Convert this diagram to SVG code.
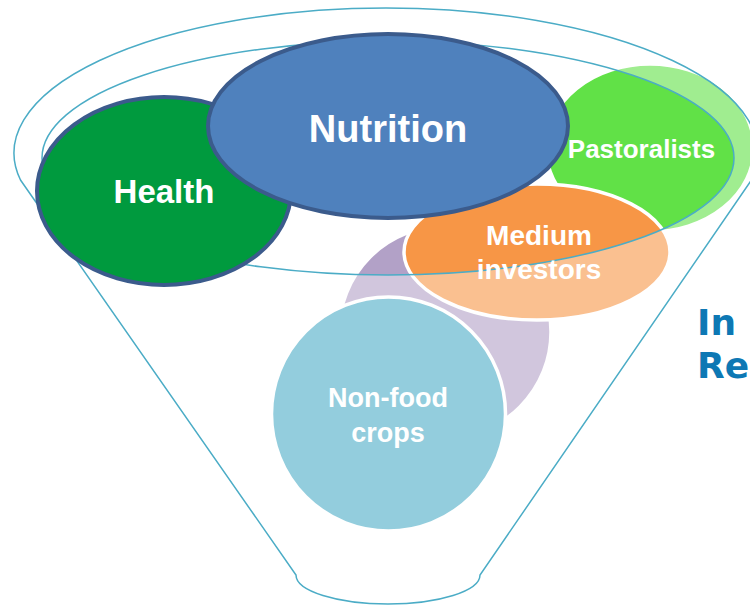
<svg xmlns="http://www.w3.org/2000/svg" width="750" height="606" viewBox="0 0 750 606">
  <style>
    .lbl { font-family: "Liberation Sans", Arial, sans-serif; font-weight: bold; fill: #ffffff; text-anchor: middle; }
    .bubble { stroke: #ffffff; stroke-width: 3.5; }
    .main { stroke: #3B5B8C; stroke-width: 4; }
    .funnel { fill: #ffffff; fill-opacity: 0.4; fill-rule: evenodd; stroke: #4BACC6; stroke-width: 1.5; }
    .side { font-family: "DejaVu Sans", Verdana, sans-serif; font-weight: bold; fill: #0D78B4; font-size: 36px; }
  </style>
  <rect width="750" height="606" fill="#ffffff"/>

  <g id="pastoralists">
    <ellipse cx="650" cy="148" rx="104" ry="84" fill="#61E147" class="bubble"/>
  </g>
  <g id="purple-bubble">
    <circle cx="445" cy="332" r="106" fill="#B2A1C7" class="bubble"/>
  </g>
  <g id="medium-investors">
    <ellipse cx="537" cy="252" rx="133" ry="68" fill="#F79646" class="bubble"/>
  </g>
  <g id="non-food-crops">
    <circle cx="388.5" cy="414" r="117" fill="#4BACC6" class="bubble"/>
  </g>

  <g id="funnel">
    <path class="funnel" d="M 20.5,180 A 372 145 0 1 1 751.5,180 L 480,575 A 92 29 0 0 1 296,575 Z M 42,158 A 346 117 0 1 0 734,158 A 346 117 0 1 0 42,158 Z"/>
  </g>

  <g id="health">
    <ellipse cx="164" cy="191" rx="127" ry="94" fill="#009A3E" class="main"/>
    <text class="lbl" x="164" y="203" font-size="33">Health</text>
  </g>
  <g id="nutrition">
    <ellipse cx="388" cy="126" rx="180" ry="92" fill="#4F81BD" class="main"/>
    <text class="lbl" x="388" y="142" font-size="38">Nutrition</text>
  </g>

  <g id="labels">
    <text class="lbl" x="641.5" y="158" font-size="26">Pastoralists</text>
    <text class="lbl" x="539" y="245" font-size="28">Medium</text>
    <text class="lbl" x="539" y="279" font-size="28">investors</text>
    <text class="lbl" x="388" y="407" font-size="27">Non-food</text>
    <text class="lbl" x="388" y="442" font-size="27">crops</text>
  </g>

  <g id="side-title">
    <text class="side" x="697" y="335">In</text>
    <text class="side" x="697" y="378">Re</text>
  </g>
</svg>
